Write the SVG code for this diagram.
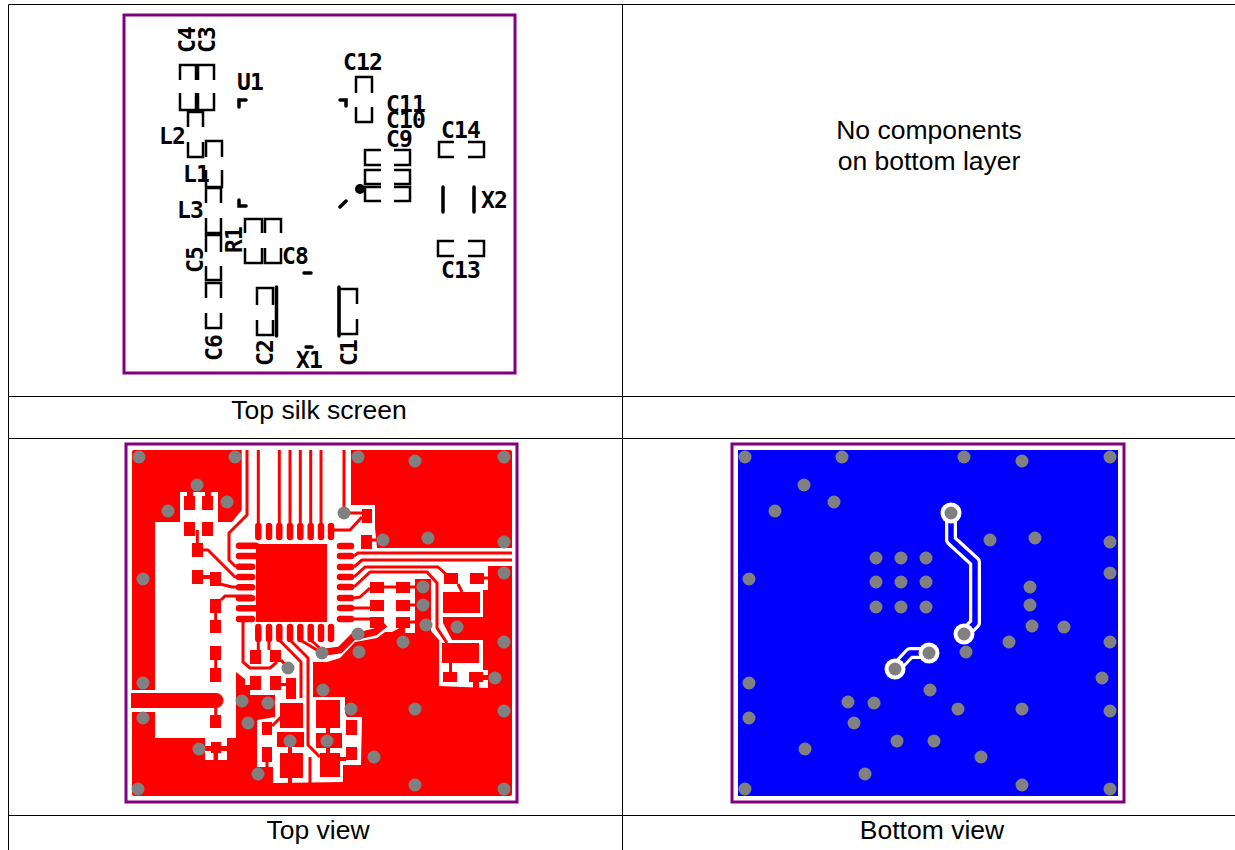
<svg xmlns="http://www.w3.org/2000/svg" width="1235" height="850" viewBox="0 0 1235 850">
<style>
.grid{stroke:#000;stroke-width:1;fill:none}
.board{fill:none;stroke:#800080;stroke-width:3}
.silk{fill:none;stroke:#000;stroke-width:2.500}
.silkb{fill:none;stroke:#000;stroke-width:3.500;stroke-linecap:round}
.st{font-family:"DejaVu Sans Mono",monospace;font-weight:bold;font-size:23px;fill:#000;letter-spacing:-0.800px}
.cap{font-family:"Liberation Sans",Arial,sans-serif;font-size:26.500px;fill:#000;text-anchor:middle}
.r{fill:#f00}
.t{fill:none;stroke:#f00;stroke-width:3;stroke-linejoin:round}
.p{fill:none;stroke:#f00;stroke-width:6.500;stroke-linecap:round}
.v{fill:#808080}
.bt{fill:none;stroke:#fff;stroke-width:12;stroke-linejoin:round}
.bi{fill:none;stroke:#00f;stroke-width:5.500;stroke-linejoin:round}
</style>
<rect width="1235" height="850" fill="#fff"/>
<g id="table">
<path class="grid" d="M8.500 4.500H1235M8.500 396.500H1235M8.500 438.500H1235M8.500 815.500H1235M8.500 4.500V850M622.500 4.500V850"/>
</g>
<g id="captions">
<text class="cap" x="319" y="419">Top silk screen</text>
<text class="cap" x="929" y="139">No components</text>
<text class="cap" x="929" y="170">on bottom layer</text>
<text class="cap" x="318" y="839">Top view</text>
<text class="cap" x="932" y="839">Bottom view</text>
</g>
<g id="top-silk">
<rect class="board" x="124" y="15" width="391" height="358"/>
<path class="silk" d="M180 80V65H196V80M180 93V110H196V93M198 80V65H214V80M198 93V110H214V93
M188 127V112H203V127M188 142V157H203V142M206 157V141H222V157M206 170V187H222V170
M206 203V188H221V203M206 218V233H221V218M206 252V235H221V252M206 266V280H221V266M206 298V283H221V298M206 313V328H221V313
M245 233V219H262V233M245 248V263H262V248M265 233V219H281V233M265 248V263H281V248
M257 305V288H273V305M257 320V335H273V320
M356 93V77H372V93M356 107V122H372V107
M381 150H365V165H381M381 170H365V184H381M381 187H365V201H381M394 150H410V165H394M394 170H410V184H394M394 187H410V201H394
M454 142H439V157H454M468 142H484V157H468M454 241H438V256H454M468 241H484V256H468
M357 304V289H339V334H357V319"/>
<path class="silkb" d="M276.500 287V336M339 287V336M443 187V212M474 187V212M304 273H311M306 347H312M340 207L346 201M239 107V100H246M239 200V206H246M340 100H346V106"/>
<circle cx="360" cy="189" r="5"/>
<text class="st" transform="translate(195 53) rotate(-90)">C4</text>
<text class="st" transform="translate(215 53) rotate(-90)">C3</text>
<text class="st" x="237" y="90">U1</text>
<text class="st" x="343" y="70">C12</text>
<text class="st" x="386" y="112">C11</text>
<text class="st" x="386" y="128">C10</text>
<text class="st" x="386" y="147">C9</text>
<text class="st" x="441" y="138">C14</text>
<text class="st" x="159" y="144">L2</text>
<text class="st" x="183" y="182">L1</text>
<text class="st" x="177" y="218">L3</text>
<text class="st" transform="translate(242 253) rotate(-90)">R1</text>
<text class="st" transform="translate(203 273) rotate(-90)">C5</text>
<text class="st" x="282" y="264">C8</text>
<text class="st" transform="translate(222 361) rotate(-90)">C6</text>
<text class="st" transform="translate(273 366) rotate(-90)">C2</text>
<text class="st" x="296" y="368">X1</text>
<text class="st" transform="translate(357 366) rotate(-90)">C1</text>
<text class="st" x="481" y="208">X2</text>
<text class="st" x="441" y="278">C13</text>
</g>
<g id="top-view">
<rect class="board" x="126" y="444" width="391" height="358"/>
<rect class="r" x="132" y="450" width="380" height="346" rx="2"/>
<path fill="#fff" d="M241.700 450H351V505H375V528L377 548H512V566H488V590H483V617H443V623L452 640H483V670H488V688L439 686V640L431 631V592L428 580H415V633H405V625L392 632H385L377 638L355 642L340 658L327 662H313V697H345V713L347 717H362L361 765H343V782L273 783V767H257V720L275 717V695H250V685H245V679L236 672V738H227V760H205V738H155V712H131V690H155V522H180V492H218V522H232L241.700 510Z"/>
<g class="r">
<rect x="256" y="544" width="71" height="78"/>
<path d="M184 496H195V510H184ZM202 496H213V510H202ZM187 492H193V497H187ZM205 492H211V497H205ZM184 522H195V536H184ZM202 522H213V536H202ZM192 543H203V557H192ZM192 570H203V584H192ZM210 572H221V586H210ZM203 575H210V579H203ZM210 599H221V613H210ZM210 620H221V633H210ZM210 646H221V660H210ZM210 668H221V682H210ZM210 715H221V728H210ZM211 742H221V753H211ZM205 746H227V751H205ZM213.500 753H218V760H213.500Z"/>
<path d="M131 693H216A7.500 7.500 0 0 1 216 708H131Z"/>
<path d="M362 509H372V523H362ZM361 535H372V549H361ZM370 582H384V593H370ZM370 600H384V611H370ZM370 617H384V628H370ZM396 582H410V593H396ZM396 600H410V611H396ZM396 617H410V628H396ZM415 579H431V640H415ZM444 573H458V584H444ZM470 573H484V584H470ZM488 566H512V590H488ZM443 592H480V613H443ZM442 643H479V663H442ZM443 672H457V682H443ZM449 663H452V672H449ZM469 672H483V682H469ZM473 682H479V688H473ZM483 675H488V680H483Z"/>
<path d="M250 650H261V664H250ZM270 650H281V662H270ZM250 676H261V690H250ZM270 676H281V690H270ZM286 678H296V699H286ZM281 683H286V686H281ZM280 703H303V728H280ZM262 722H272V735H262ZM277 732H304V747H277ZM288 747H292V753H288ZM280 753H303V778H280ZM288 778H292V783H288ZM262 747H272V762H262ZM265.500 762H268.500V767H265.500ZM316 700H340V728H316ZM316 733H342V748H316ZM320 753H340V777H320ZM326 728H330V733H326ZM326 748H330V753H326ZM346 747H357V760H346ZM346 720H357V735H346ZM340 757H346V761H340Z"/>
</g>
<g>
<path class="p" d="M239 545.700H256M239 556H256M239 566.700H252M239 577H252M239 587.300H252M239 598.300H252M239 608.300H256M239 619H252
M340 546H351M340 556H351M340 567H351M340 577H351M340 587H351M340 598H351M340 608H351M340 619H351
M258.300 526V537M269 526V537M279.300 526V537M290 526V537M300.300 526V537M310.700 526V537M321 526V537M331 526V537
M258.300 627V639M269 627V639M279.300 627V639M290 627V639M300.300 627V639M310.700 627V639M321 627V639M331 627V639"/>
<path class="t" d="M247 450V515L229 533V560L235 566H252M258.300 450V526M279.300 450V526M290 450V526M300.300 450V526M310.700 450V526M321 450V526M344 450V513M344 513H362M333 530H350L362 517M372 540H383"/>
<path class="t" d="M197.300 530V545M203 550H208L235 577H252M220 584L232 587H252M221 600L225 596H252M215.700 613V620M215.700 660V668M215.700 708V715"/>
<path class="t" d="M354 556L358 553H512M354 567L362 560H512M354 577L365 567H438L447 575M458 584L462 592M354 587L370 572H427L437 583V628L447 643M484 578H488M354 598L360 597L370 588M354 608H370M354 619H370M384 587H396V587M410 587H415M410 605H415M410 622H415"/>
<path class="t" d="M258.300 639V650M269 639V650M243 619V662L250 668H270L277 662M281 660L288 668M279.300 640L301 662V698M290 640L308 658V745L320 757M300.300 640L322 653M310.700 640L322 650M272 726L282 716M310 757V783"/>
<path fill="none" stroke="#f00" stroke-width="7" d="M318 653L340 650L353 637L375 632L385 624"/>
</g>
<g class="v">
<circle cx="139" cy="457" r="6.500"/><circle cx="235" cy="457" r="6.500"/><circle cx="197" cy="485" r="6.500"/><circle cx="227" cy="502" r="6.500"/><circle cx="168" cy="511" r="6.500"/><circle cx="143" cy="579" r="6.500"/>
<circle cx="358" cy="457" r="6.500"/><circle cx="415" cy="461" r="6.500"/><circle cx="504" cy="457" r="6.500"/><circle cx="344" cy="513" r="6.500"/><circle cx="383" cy="540" r="6.500"/><circle cx="428" cy="538" r="6.500"/><circle cx="504" cy="542" r="6.500"/><circle cx="504" cy="573" r="6.500"/><circle cx="423" cy="587" r="6.500"/><circle cx="423" cy="605" r="6.500"/><circle cx="426" cy="625" r="6.500"/><circle cx="457" cy="627" r="6.500"/>
<circle cx="143" cy="683" r="6.500"/><circle cx="143" cy="718" r="6.500"/><circle cx="242" cy="701" r="6.500"/><circle cx="268" cy="703" r="6.500"/><circle cx="248" cy="723" r="6.500"/><circle cx="199" cy="749" r="6.500"/><circle cx="138" cy="789" r="6.500"/><circle cx="258" cy="774" r="6.500"/><circle cx="290" cy="741" r="6.500"/><circle cx="288" cy="668" r="6.500"/><circle cx="322" cy="653" r="6.500"/><circle cx="323" cy="690" r="6.500"/>
<circle cx="358" cy="634" r="6.500"/><circle cx="359" cy="652" r="6.500"/><circle cx="403" cy="642" r="6.500"/><circle cx="504" cy="642" r="6.500"/><circle cx="495" cy="678" r="6.500"/><circle cx="351" cy="709" r="6.500"/><circle cx="415" cy="709" r="6.500"/><circle cx="504" cy="711" r="6.500"/><circle cx="327" cy="741" r="6.500"/><circle cx="374" cy="757" r="6.500"/><circle cx="415" cy="785" r="6.500"/><circle cx="504" cy="789" r="6.500"/>
</g>
</g>
<g id="bottom-view">
<rect class="board" x="732" y="444" width="392" height="358"/>
<rect x="738" y="450" width="380" height="346" fill="#00f"/>
<path class="bt" d="M951 513V540L975 562V623L964 634"/>
<path class="bt" d="M895 669L910 653H929"/>
<path class="bi" d="M951 513V540L975 562V623L964 634"/>
<path class="bi" d="M895 669L910 653H929"/>
<g fill="#fff"><circle cx="951" cy="513" r="10.500"/><circle cx="964" cy="634" r="10.500"/><circle cx="929" cy="653" r="10.500"/><circle cx="895" cy="669" r="10.500"/></g>
<g class="v">
<circle cx="951" cy="513" r="6.500"/><circle cx="964" cy="634" r="6.500"/><circle cx="929" cy="653" r="6.500"/><circle cx="895" cy="669" r="6.500"/>
<circle cx="745" cy="457" r="6.500"/><circle cx="842" cy="457" r="6.500"/><circle cx="964" cy="457" r="6.500"/><circle cx="1022" cy="461" r="6.500"/><circle cx="1110" cy="457" r="6.500"/><circle cx="804" cy="485" r="6.500"/><circle cx="834" cy="502" r="6.500"/><circle cx="775" cy="511" r="6.500"/><circle cx="990" cy="540" r="6.500"/><circle cx="1035" cy="538" r="6.500"/><circle cx="1110" cy="542" r="6.500"/><circle cx="1110" cy="573" r="6.500"/><circle cx="749" cy="579" r="6.500"/>
<circle cx="876" cy="558" r="6.500"/><circle cx="901" cy="558" r="6.500"/><circle cx="926" cy="558" r="6.500"/><circle cx="876" cy="582" r="6.500"/><circle cx="901" cy="582" r="6.500"/><circle cx="926" cy="582" r="6.500"/><circle cx="876" cy="607" r="6.500"/><circle cx="901" cy="607" r="6.500"/><circle cx="926" cy="607" r="6.500"/>
<circle cx="1030" cy="587" r="6.500"/><circle cx="1030" cy="605" r="6.500"/><circle cx="1032" cy="626" r="6.500"/><circle cx="1064" cy="627" r="6.500"/><circle cx="1009" cy="642" r="6.500"/><circle cx="966" cy="652" r="6.500"/><circle cx="1110" cy="642" r="6.500"/><circle cx="1102" cy="678" r="6.500"/><circle cx="749" cy="683" r="6.500"/><circle cx="930" cy="690" r="6.500"/><circle cx="848" cy="702" r="6.500"/><circle cx="874" cy="703" r="6.500"/><circle cx="958" cy="709" r="6.500"/><circle cx="1022" cy="709" r="6.500"/><circle cx="749" cy="718" r="6.500"/><circle cx="854" cy="723" r="6.500"/><circle cx="1110" cy="711" r="6.500"/><circle cx="897" cy="741" r="6.500"/><circle cx="934" cy="741" r="6.500"/><circle cx="805" cy="749" r="6.500"/><circle cx="981" cy="757" r="6.500"/><circle cx="865" cy="774" r="6.500"/><circle cx="745" cy="789" r="6.500"/><circle cx="1022" cy="785" r="6.500"/><circle cx="1110" cy="789" r="6.500"/>
</g>
</g>
</svg>
